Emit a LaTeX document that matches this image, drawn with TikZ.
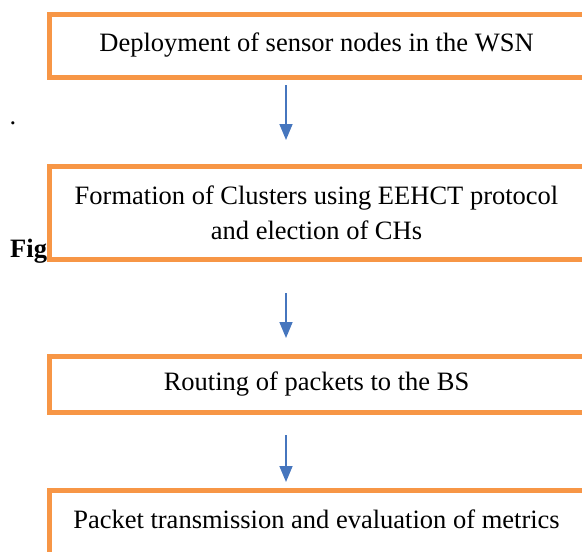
\documentclass[tikz,border=0pt]{standalone}
\usepackage{fontspec}
\setmainfont{Liberation Serif}
\usepackage{tikz}
\usetikzlibrary{arrows.meta}
\definecolor{boxorange}{RGB}{247,150,70}
\definecolor{arrowblue}{RGB}{70,118,190}

\begin{document}
\begin{tikzpicture}[x=1pt, y=-1pt,
  stepbox/.style={draw=boxorange, line width=5pt, fill=white, outer sep=0pt,
    minimum width=535pt, align=center, font=\fontsize{26.5}{35}\selectfont},
  flow/.style={draw=arrowblue, line width=1.6pt, -{Triangle[length=16pt,width=13pt]}}]
\useasboundingbox (0,0) rectangle (582,552);
\node [anchor=west, font=\fontsize{26.5}{35}\selectfont] (dot) at (6,123) {.};
\node [anchor=base west, inner sep=0pt, font=\fontsize{26.5}{35}\selectfont\bfseries] (fig) at (10,257) {Fig};
\node [stepbox, minimum height=63pt] (deploy) at (316.5,45.5) {Deployment of sensor nodes in the WSN};
\node [stepbox, minimum height=93pt] (cluster) at (316.5,212.5) {Formation of Clusters using EEHCT protocol\\and election of CHs};
\node [stepbox, minimum height=56pt] (route) at (316.5,384) {Routing of packets to the BS};
\node [stepbox, minimum height=66pt, text depth=8pt] (packet) at (316.5,523) {Packet transmission and evaluation of metrics};
\draw [flow] ([xshift=-30.5pt, yshift=-8pt]deploy.south) -- ([xshift=-30.5pt, yshift=26pt]cluster.north);
\draw [flow] ([xshift=-30.5pt, yshift=-34pt]cluster.south) -- ([xshift=-30.5pt, yshift=18pt]route.north);
\draw [flow] ([xshift=-30.5pt, yshift=-23pt]route.south) -- ([xshift=-30.5pt, yshift=8pt]packet.north);
\end{tikzpicture}
\end{document}
